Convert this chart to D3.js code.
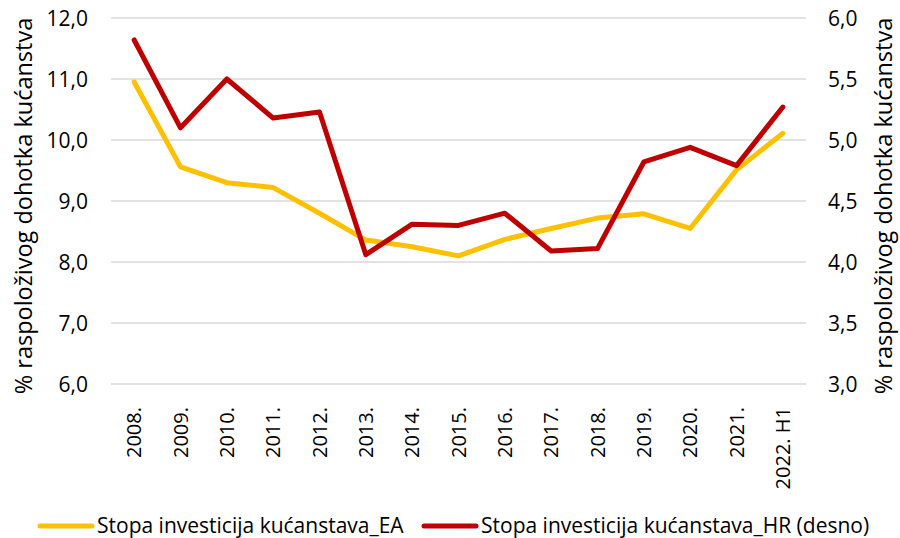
<!DOCTYPE html>
<html>
<head>
<meta charset="utf-8">
<script src="https://cdn.jsdelivr.net/npm/d3@7"></script>
<style>
  body { margin: 0; background: #fff; }
  text { font-family: "Open Sans", "Liberation Sans", Arial, sans-serif; fill: #000; }
</style>
</head>
<body>
<div id="chart"></div>
<script>
var categories = ["2008.", "2009.", "2010.", "2011.", "2012.", "2013.", "2014.", "2015.",
  "2016.", "2017.", "2018.", "2019.", "2020.", "2021.", "2022. H1"];
var eaValues = [10.95, 9.56, 9.30, 9.22, 8.80, 8.36, 8.25, 8.10, 8.37, 8.55, 8.72, 8.79, 8.55, 9.51, 10.11];
var hrValues = [5.82, 5.10, 5.50, 5.18, 5.23, 4.06, 4.31, 4.30, 4.40, 4.09, 4.11, 4.82, 4.94, 4.79, 5.27];
var leftTicks = [6, 7, 8, 9, 10, 11, 12];
var rightTicks = [3, 3.5, 4, 4.5, 5, 5.5, 6];
var seriesNames = ["Stopa investicija kućanstava_EA", "Stopa investicija kućanstava_HR (desno)"];
var axisTitle = "% raspoloživog dohotka kućanstva";

var width = 900, height = 538;
var plotLeft = 111, plotRight = 806, plotTop = 18, plotBottom = 384;

var svg = d3.select("#chart").append("svg")
  .attr("width", width)
  .attr("height", height);

var x = d3.scaleBand().domain(categories).range([plotLeft, plotRight]);
var yL = d3.scaleLinear().domain([6, 12]).range([plotBottom, plotTop]);
var yR = d3.scaleLinear().domain([3, 6]).range([plotBottom, plotTop]);

var fmt = function(d) { return d3.format(".1f")(d).replace(".", ","); };

// gridlines
svg.append("g")
  .selectAll("line")
  .data(leftTicks)
  .join("line")
  .attr("x1", plotLeft).attr("x2", plotRight)
  .attr("y1", d => yL(d)).attr("y2", d => yL(d))
  .attr("stroke", "#d9d9d9")
  .attr("stroke-width", 1.5);

// left axis
var axL = svg.append("g")
  .attr("transform", "translate(" + (plotLeft - 23) + ",0)")
  .call(d3.axisLeft(yL).tickValues(leftTicks).tickFormat(fmt).tickSize(0));
axL.select(".domain").remove();
axL.selectAll("text").style("font-size", "21px").attr("x", 0).attr("dy", "0.35em");

// right axis
var axR = svg.append("g")
  .attr("transform", "translate(" + (plotRight + 22) + ",0)")
  .call(d3.axisRight(yR).tickValues(rightTicks).tickFormat(fmt).tickSize(0));
axR.select(".domain").remove();
axR.selectAll("text").style("font-size", "21px").attr("x", 0).attr("dy", "0.35em");

// x axis
var axX = svg.append("g")
  .attr("transform", "translate(0," + plotBottom + ")")
  .call(d3.axisBottom(x).tickSize(0));
axX.select(".domain").remove();
axX.selectAll("text")
  .style("font-size", "20px")
  .attr("text-anchor", "end")
  .attr("transform", "rotate(-90)")
  .attr("x", -23)
  .attr("y", 0)
  .attr("dy", "0.35em");

// axis titles
svg.append("text")
  .attr("transform", "translate(24," + ((plotTop + plotBottom) / 2 + 5) + ") rotate(-90)")
  .attr("text-anchor", "middle")
  .attr("dy", "0.35em")
  .style("font-size", "23.5px")
  .text(axisTitle);

svg.append("text")
  .attr("transform", "translate(884," + ((plotTop + plotBottom) / 2 + 5) + ") rotate(-90)")
  .attr("text-anchor", "middle")
  .attr("dy", "0.35em")
  .style("font-size", "23.5px")
  .text(axisTitle);

var cx = d => x(d) + x.bandwidth() / 2;

var lineL = d3.line().x((d, i) => cx(categories[i])).y(d => yL(d));
var lineR = d3.line().x((d, i) => cx(categories[i])).y(d => yR(d));

svg.append("path")
  .datum(eaValues)
  .attr("d", lineL)
  .attr("fill", "none")
  .attr("stroke", "#ffc000")
  .attr("stroke-width", 5)
  .attr("stroke-linejoin", "round")
  .attr("stroke-linecap", "round");

svg.append("path")
  .datum(hrValues)
  .attr("d", lineR)
  .attr("fill", "none")
  .attr("stroke", "#c00000")
  .attr("stroke-width", 5)
  .attr("stroke-linejoin", "round")
  .attr("stroke-linecap", "round");

// legend
var legend = [
  { name: seriesNames[0], color: "#ffc000", x: 40 },
  { name: seriesNames[1], color: "#c00000", x: 424 }
];
var lg = svg.append("g").selectAll("g").data(legend).join("g")
  .attr("transform", d => "translate(" + d.x + ",526)");
lg.append("line")
  .attr("x1", 0).attr("x2", 52)
  .attr("stroke", d => d.color)
  .attr("stroke-width", 5)
  .attr("stroke-linecap", "round");
lg.append("text")
  .attr("x", 57)
  .attr("dy", "0.35em")
  .style("font-size", "21px")
  .text(d => d.name);
</script>
</body>
</html>
